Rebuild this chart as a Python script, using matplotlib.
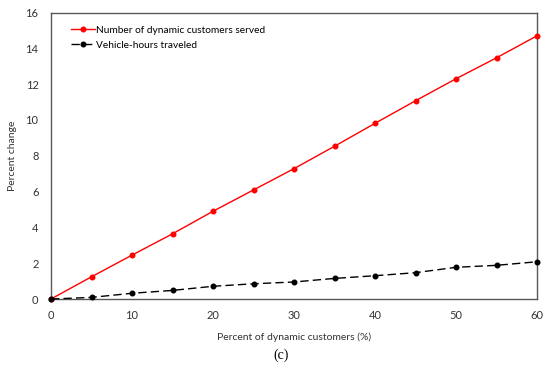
import matplotlib
matplotlib.use("Agg")
import matplotlib.pyplot as plt

x = [0, 5, 10, 15, 20, 25, 30, 35, 40, 45, 50, 55, 60]
served = [0, 1.24, 2.45, 3.64, 4.9, 6.09, 7.28, 8.53, 9.81, 11.07, 12.3, 13.47, 14.7]
vht = [0, 0.09, 0.32, 0.48, 0.71, 0.85, 0.95, 1.15, 1.3, 1.47, 1.77, 1.88, 2.08]
xticks = [0, 10, 20, 30, 40, 50, 60]
yticks = [0, 2, 4, 6, 8, 10, 12, 14, 16]

plt.rcParams['font.family'] = ['Lato', 'DejaVu Sans']

fig = plt.figure(figsize=(5.5, 3.66), dpi=100)
ax = fig.add_axes([51/550, 1-299/366, (537-51)/550, (299-12.5)/366])

ax.plot(x, served, color='#ff0000', lw=1.0, marker='o', ms=3.3,
        label='Number of dynamic customers served', clip_on=False, zorder=3)
ax.plot(x, vht, color='black', lw=1.0, ls=(0, (6, 3)), marker='o', ms=3.3,
        label='Vehicle-hours traveled', clip_on=False, zorder=3)

ax.set_xlim(0, 60)
ax.set_ylim(0, 16)
ax.set_xticks(xticks)
ax.set_yticks(yticks)
ax.tick_params(length=0, labelsize=8, colors='#333333')
ax.tick_params(axis='x', pad=8)
ax.tick_params(axis='y', pad=9)
for s in ax.spines.values():
    s.set_color('#595959')
    s.set_linewidth(1.0)

ax.set_xlabel('Percent of dynamic customers (%)', fontsize=7.5, color='#333333', labelpad=8)
ax.set_ylabel('Percent change', fontsize=7.5, color='#333333', labelpad=6)

leg = ax.legend(loc='upper left', frameon=False, fontsize=7.3, handlelength=2.3,
                handletextpad=0.15, labelspacing=0.6, borderaxespad=0.9,
                bbox_to_anchor=(0.015, 1.0))

fig.text(281/550, 1-355/366, '(c)', family='Liberation Serif', fontsize=10,
         ha='center', va='center', color='black')

fig.savefig('out.png', dpi=100)
